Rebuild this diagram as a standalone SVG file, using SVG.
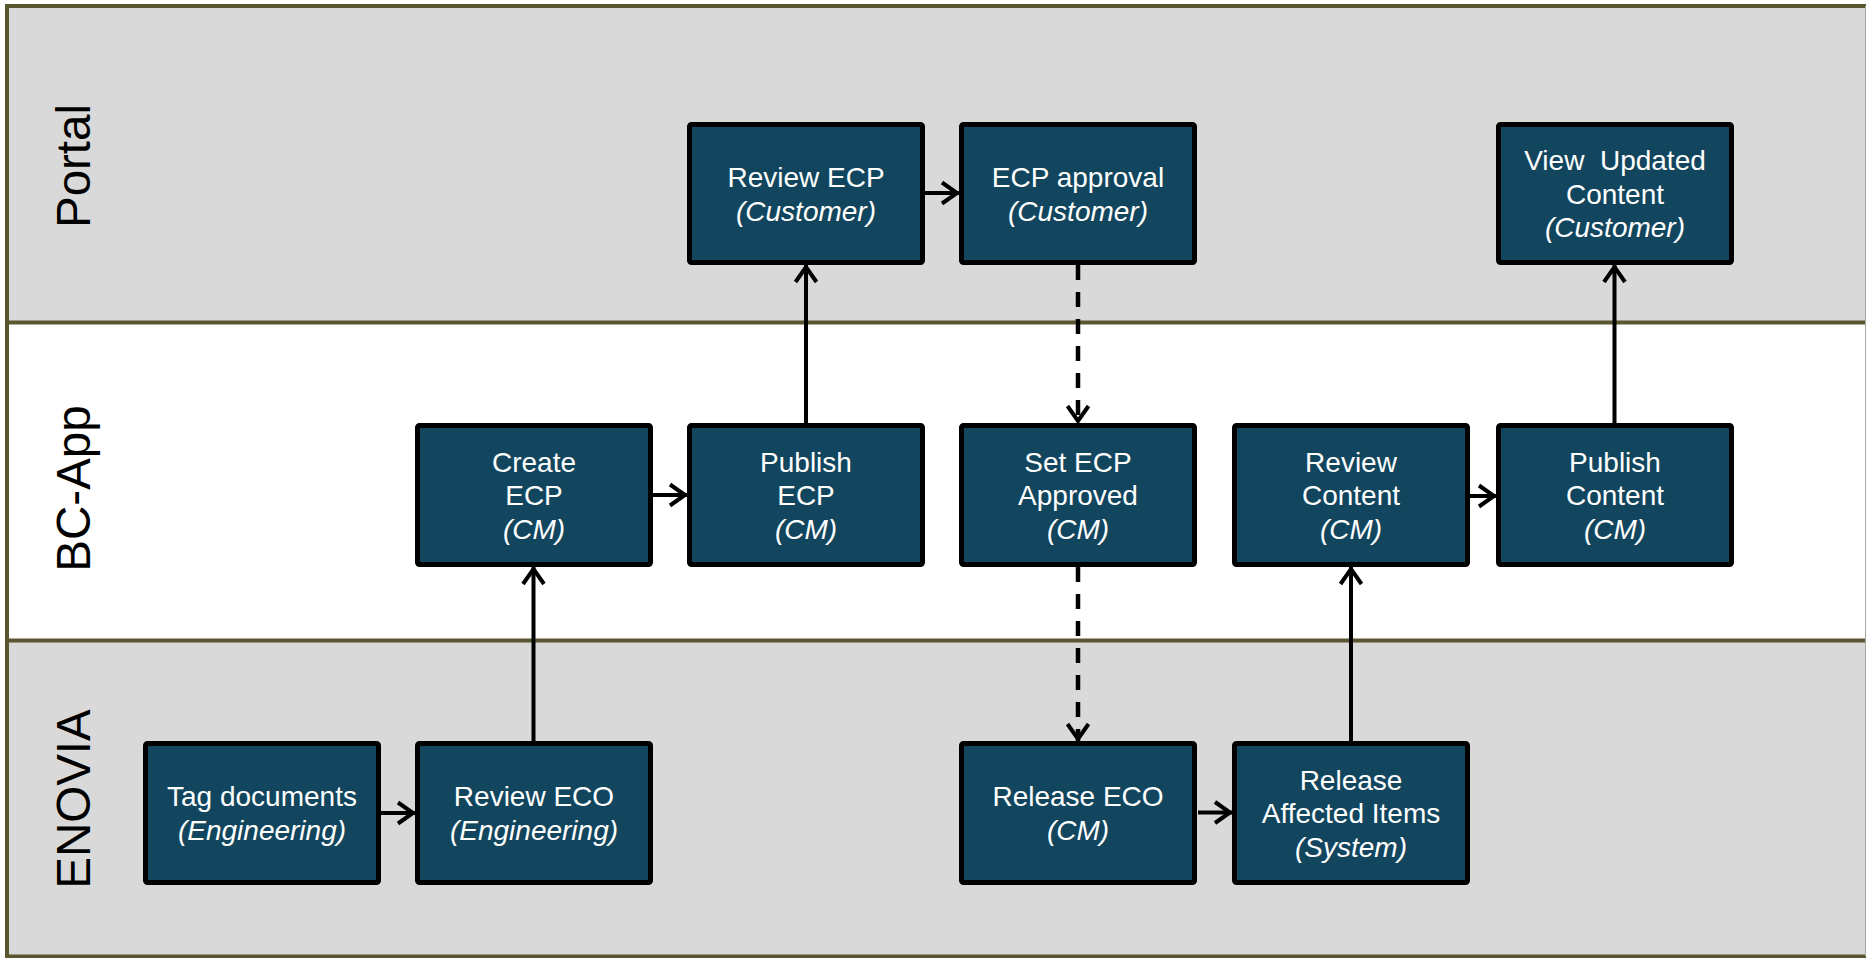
<svg xmlns="http://www.w3.org/2000/svg" width="1866" height="958" viewBox="0 0 1866 958">
<style>
.lane-g{fill:#d9d9d9}
.lane-w{fill:#ffffff}
.lane-line{stroke:#5a5730;stroke-width:4;fill:none}
.lane-label{font-family:"Liberation Sans",Arial,sans-serif;font-size:47.5px;fill:#000;text-anchor:middle}
.box{fill:#12465e;stroke:#000;stroke-width:5}
.t{font-family:"Liberation Sans",Arial,sans-serif;font-size:28px;fill:#fff;text-anchor:middle}
.i{font-style:italic}
.c{stroke:#000;stroke-width:4;fill:none}
.d{stroke-width:4.5;stroke-dasharray:15 12}
</style>
<defs>
<marker id="arr" markerUnits="userSpaceOnUse" viewBox="-22 -14 26 28" markerWidth="26" markerHeight="28" refX="0" refY="0" orient="auto">
<path d="M-17,-10.5 L-2,0 L-17,10.5" fill="none" stroke="#000" stroke-width="4" stroke-linejoin="miter"/>
</marker>
</defs>
<rect x="0" y="0" width="1866" height="958" fill="#fff"/>
<g id="lanes">
<rect class="lane-g" x="7" y="6" width="1859" height="316.5"/>
<rect class="lane-w" x="7" y="322.5" width="1859" height="318"/>
<rect class="lane-g" x="7" y="640.5" width="1859" height="316"/>
<path class="lane-line" d="M1866,6 H7 V956.5 H1866 M7,322.5 H1866 M7,640.5 H1866"/>
<line x1="1865.5" y1="6" x2="1865.5" y2="956" stroke="#a8a8a0" stroke-width="1"/>
<text class="lane-label" transform="translate(90,166) rotate(-90)">Portal</text>
<text class="lane-label" transform="translate(90,488.5) rotate(-90)">BC-App</text>
<text class="lane-label" transform="translate(90,799) rotate(-90)">ENOVIA</text>
</g>
<g id="connectors">
<path class="c" d="M381,813 H415" marker-end="url(#arr)"/>
<path class="c" d="M533.5,741 V567" marker-end="url(#arr)"/>
<path class="c" d="M653,495 H687" marker-end="url(#arr)"/>
<path class="c" d="M806,423 V265" marker-end="url(#arr)"/>
<path class="c" d="M925,193 H959" marker-end="url(#arr)"/>
<path class="c d" d="M1078,265 V423" marker-end="url(#arr)"/>
<path class="c d" d="M1078,567 V741" marker-end="url(#arr)"/>
<path class="c" d="M1198,812.5 H1232" marker-end="url(#arr)"/>
<path class="c" d="M1351,741 V567" marker-end="url(#arr)"/>
<path class="c" d="M1470,496 H1496" marker-end="url(#arr)"/>
<path class="c" d="M1614.5,423 V265" marker-end="url(#arr)"/>
</g>
<g id="review-ecp">
<rect class="box" x="689.5" y="124.5" width="233" height="138" rx="2"/>
<text class="t"><tspan x="806" y="187">Review ECP</tspan><tspan class="i" x="806" y="220.5">(Customer)</tspan></text>
</g>
<g id="ecp-approval">
<rect class="box" x="961.5" y="124.5" width="233" height="138" rx="2"/>
<text class="t"><tspan x="1078" y="187">ECP approval</tspan><tspan class="i" x="1078" y="220.5">(Customer)</tspan></text>
</g>
<g id="view-updated-content">
<rect class="box" x="1498.5" y="124.5" width="233" height="138" rx="2"/>
<text class="t" xml:space="preserve"><tspan x="1615" y="170">View  Updated</tspan><tspan x="1615" y="203.5">Content</tspan><tspan class="i" x="1615" y="237">(Customer)</tspan></text>
</g>
<g id="create-ecp">
<rect class="box" x="417.5" y="425.5" width="233" height="139" rx="2"/>
<text class="t"><tspan x="534" y="471.5">Create</tspan><tspan x="534" y="505">ECP</tspan><tspan class="i" x="534" y="538.5">(CM)</tspan></text>
</g>
<g id="publish-ecp">
<rect class="box" x="689.5" y="425.5" width="233" height="139" rx="2"/>
<text class="t"><tspan x="806" y="471.5">Publish</tspan><tspan x="806" y="505">ECP</tspan><tspan class="i" x="806" y="538.5">(CM)</tspan></text>
</g>
<g id="set-ecp-approved">
<rect class="box" x="961.5" y="425.5" width="233" height="139" rx="2"/>
<text class="t"><tspan x="1078" y="471.5">Set ECP</tspan><tspan x="1078" y="505">Approved</tspan><tspan class="i" x="1078" y="538.5">(CM)</tspan></text>
</g>
<g id="review-content">
<rect class="box" x="1234.5" y="425.5" width="233" height="139" rx="2"/>
<text class="t"><tspan x="1351" y="471.5">Review</tspan><tspan x="1351" y="505">Content</tspan><tspan class="i" x="1351" y="538.5">(CM)</tspan></text>
</g>
<g id="publish-content">
<rect class="box" x="1498.5" y="425.5" width="233" height="139" rx="2"/>
<text class="t"><tspan x="1615" y="471.5">Publish</tspan><tspan x="1615" y="505">Content</tspan><tspan class="i" x="1615" y="538.5">(CM)</tspan></text>
</g>
<g id="tag-documents">
<rect class="box" x="145.5" y="743.5" width="233" height="139" rx="2"/>
<text class="t"><tspan x="262" y="806">Tag documents</tspan><tspan class="i" x="262" y="840">(Engineering)</tspan></text>
</g>
<g id="review-eco">
<rect class="box" x="417.5" y="743.5" width="233" height="139" rx="2"/>
<text class="t"><tspan x="534" y="806">Review ECO</tspan><tspan class="i" x="534" y="840">(Engineering)</tspan></text>
</g>
<g id="release-eco">
<rect class="box" x="961.5" y="743.5" width="233" height="139" rx="2"/>
<text class="t"><tspan x="1078" y="806">Release ECO</tspan><tspan class="i" x="1078" y="840">(CM)</tspan></text>
</g>
<g id="release-affected-items">
<rect class="box" x="1234.5" y="743.5" width="233" height="139" rx="2"/>
<text class="t"><tspan x="1351" y="789.5">Release</tspan><tspan x="1351" y="823">Affected Items</tspan><tspan class="i" x="1351" y="856.5">(System)</tspan></text>
</g>
</svg>
